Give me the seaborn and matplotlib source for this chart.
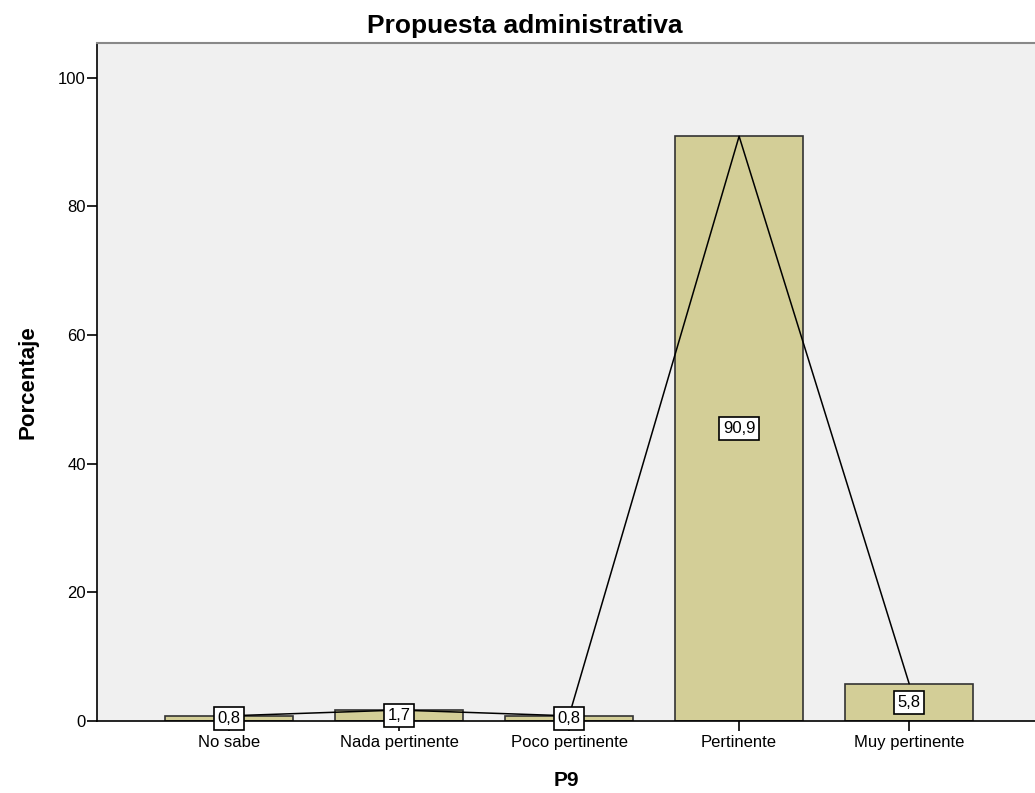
import numpy as np
import pandas as pd
import matplotlib
matplotlib.use("Agg")
import matplotlib.pyplot as plt
import seaborn as sns

categorias = ['No sabe', 'Nada pertinente', 'Poco pertinente', 'Pertinente', 'Muy pertinente']
porcentajes = [0.8, 1.7, 0.8, 90.9, 5.8]
yticks = [0, 20, 40, 60, 80, 100]

df = pd.DataFrame({'P9': categorias, 'Porcentaje': porcentajes})

sns.set_style('white', {'text.color': 'black', 'axes.labelcolor': 'black',
                        'xtick.color': 'black', 'ytick.color': 'black'})
plt.rcParams['font.family'] = ['Liberation Sans', 'DejaVu Sans']

fig = plt.figure(figsize=(10.35, 7.93), dpi=100)
ax = fig.add_axes([0.0937, 0.0908, 0.9063, 0.855])
ax.set_facecolor('#f0f0f0')

sns.barplot(data=df, x='P9', y='Porcentaje', color='#d3ce97', saturation=1,
            edgecolor='#333333', linewidth=1.2, width=0.75, ax=ax, zorder=2)

# linea que une las alturas de las barras
ax.plot(range(len(categorias)), porcentajes, color='black', lw=1.1, zorder=3)

for i, v in enumerate(porcentajes):
    ax.text(i, v / 2, f'{v:.1f}'.replace('.', ','), ha='center', va='center',
            fontsize=12, zorder=4,
            bbox=dict(boxstyle='square,pad=0.22', fc='white', ec='black', lw=1.2))

ax.set_xlim(-0.776, 4.74)
ax.set_ylim(0, 105.4)
ax.set_yticks(yticks)
ax.set_yticklabels([str(t) for t in yticks], fontsize=12)
ax.tick_params(axis='x', labelsize=12, length=7, width=1.2, direction='out', bottom=True, pad=3)
ax.tick_params(axis='y', length=7, width=1.2, direction='out', left=True, pad=1)

ax.spines['right'].set_visible(False)
ax.spines['top'].set_color('#888888')
ax.spines['top'].set_linewidth(1.5)
for s in ['left', 'bottom']:
    ax.spines[s].set_color('black')
    ax.spines[s].set_linewidth(1.2)

ax.set_xlabel('P9', fontsize=15, fontweight='bold', labelpad=15)
ax.set_ylabel('Porcentaje', fontsize=16, fontweight='bold', labelpad=14)
fig.text(0.507, 0.958, 'Propuesta administrativa', ha='center', va='baseline',
         fontsize=19, fontweight='bold')

fig.savefig('out.png', dpi=100)
